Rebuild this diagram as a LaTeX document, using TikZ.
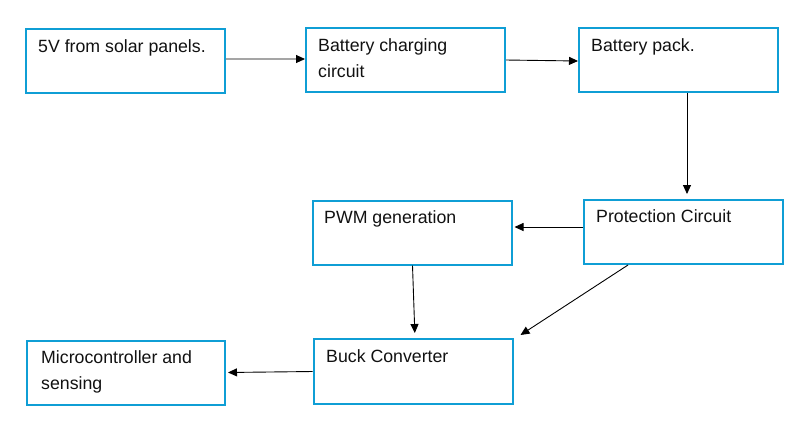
\documentclass[tikz,border=0pt]{standalone}
\usepackage{fontspec}
\setmainfont{Liberation Sans}
\usetikzlibrary{arrows.meta}
\definecolor{boxblue}{HTML}{0F9ED5}
\definecolor{txt}{HTML}{111111}
\tikzset{
  blockbox/.style={draw=boxblue, line width=2bp, inner sep=0pt, minimum width=199bp, minimum height=64bp},
  blocktext/.style={anchor=base west, inner sep=0pt, align=left, text=txt, font=\fontsize{17.8}{26}\selectfont},
  conn/.style={draw=black, line width=0.9bp, -{Triangle[length=9bp,width=8bp]}}
}
\begin{document}
\begin{tikzpicture}[x=1bp, y=-1bp]
\useasboundingbox (0,0) rectangle (797,423);
% boxes
\node[blockbox] (a) at (125.5,61) {};
\node[blockbox] (b) at (405.5,60) {};
\node[blockbox] (c) at (678.5,60) {};
\node[blockbox] (d) at (683.5,232) {};
\node[blockbox] (e) at (412.5,232.5) {};
\node[blockbox, minimum height=65bp] (f) at (413,371.5) {};
\node[blockbox, minimum width=198bp] (g) at (126,372.5) {};
% texts (base anchor of two-line texts is on the last line)
\node[blocktext] (at) at (38,52) {5V from solar panels.};
\node[blocktext] (bt) at (318,77) {Battery charging\\circuit};
\node[blocktext] (ct) at (591,51) {Battery pack.};
\node[blocktext] (dt) at (596,222) {Protection Circuit};
\node[blocktext] (et) at (324,223) {PWM generation};
\node[blocktext] (ft) at (326,362) {Buck Converter};
\node[blocktext] (gt) at (41,389) {Microcontroller and\\sensing};
% connectors
\draw[conn] ([yshift=2bp]a.east) -- ([yshift=1bp]b.west);
\draw[conn] (b.east) -- ([yshift=-1bp]c.west);
\draw[conn, shorten >=5bp] ([xshift=8.5bp]c.south) -- ([xshift=8.5bp]c.south |- d.north);
\draw[conn, shorten >=1.5bp] ([yshift=5bp]d.west) -- ([yshift=5bp]d.west -| e.east);
\draw[conn, shorten >=5bp] (e.south) -- ([xshift=2bp]f.north);
\draw[conn] ([xshift=-55.5bp]d.south) -- ([xshift=7bp,yshift=3bp]f.north east);
\draw[conn, shorten >=2bp] (f.west) -- (g.east);
\end{tikzpicture}
\end{document}
